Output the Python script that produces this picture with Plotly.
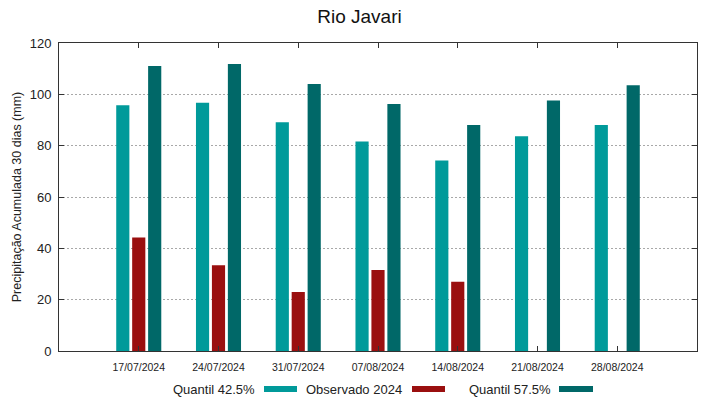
import plotly.graph_objects as go

dates = ["17/07/2024", "24/07/2024", "31/07/2024", "07/08/2024",
         "14/08/2024", "21/08/2024", "28/08/2024"]
q425 = [95.7, 96.7, 89.1, 81.6, 74.2, 83.7, 88.1]
obs2024 = [44.2, 33.4, 23.0, 31.6, 27.0, None, None]
q575 = [111.0, 111.8, 104.0, 96.2, 88.1, 97.6, 103.5]
series_names = ["Quantil 42.5%", "Observado 2024", "Quantil 57.5%"]
colors = ["#009a9a", "#9a0f0f", "#006868"]

xpos = list(range(len(dates)))

W, H = 719, 399
L, R, T, B = 59, 697, 43, 351

fig = go.Figure()
bw = 0.165
offsets = [-0.2 - bw / 2, -bw / 2, 0.2 - bw / 2]
for name, vals, col, off in zip(series_names, [q425, obs2024, q575], colors, offsets):
    fig.add_trace(go.Bar(x=xpos, y=vals, name=name, marker_color=col,
                         marker_line_width=0, width=bw, offset=off,
                         showlegend=False))

def px2x(px):
    return (px - L) / (R - L)

def py2y(py):
    return (B - py) / (B - T)

# custom legend: text then sample line (gnuplot style)
leg_y = 389
legend_items = [(257, 264, 297), (404, 412, 445), (553, 559, 593)]
annotations = []
shapes = []
for (tx, s0, s1), name, col in zip(legend_items, series_names, colors):
    annotations.append(dict(x=px2x(tx), y=py2y(leg_y), xref="paper", yref="paper",
                            text=name, showarrow=False, xanchor="right", yanchor="middle",
                            font=dict(size=13, color="#222222")))
    shapes.append(dict(type="rect", xref="paper", yref="paper",
                       x0=px2x(s0), x1=px2x(s1), y0=py2y(leg_y + 3), y1=py2y(leg_y - 3),
                       fillcolor=col, line=dict(width=0)))

fig.update_layout(
    width=W, height=H,
    margin=dict(l=L, r=W - R, t=T, b=H - B, autoexpand=False),
    paper_bgcolor="white", plot_bgcolor="white",
    barmode="overlay",
    font=dict(family="Liberation Sans, Arial, sans-serif", color="#222222"),
    title=dict(text="Rio Javari", x=0.5, xanchor="center", y=1 - 16 / H, yanchor="middle",
               font=dict(size=19, color="#111111")),
    xaxis=dict(range=[-1, 7], tickmode="array", tickvals=xpos, ticktext=dates,
               tickfont=dict(size=10.5, color="#222222"), ticks="inside", ticklen=5,
               tickcolor="#333333", showline=True, linecolor="#333333", linewidth=1,
               mirror="ticks", showgrid=False, zeroline=False, ticklabelstandoff=6),
    yaxis=dict(range=[0, 120], dtick=20, tickfont=dict(size=13, color="#222222"),
               ticks="inside", ticklen=5, tickcolor="#333333",
               showline=True, linecolor="#333333", linewidth=1, mirror="ticks",
               showgrid=True, gridcolor="#a8a8a8", griddash="2px,2px", gridwidth=1,
               zeroline=False, ticklabelstandoff=4,
               title=dict(text="Precipitação Acumulada 30 dias (mm)",
                          font=dict(size=12.5, color="#222222"), standoff=5)),
    annotations=annotations,
    shapes=shapes,
)

fig.write_html("out.html", config={"displayModeBar": False},
               post_script="document.body.style.margin='0';document.body.style.padding='0';")
